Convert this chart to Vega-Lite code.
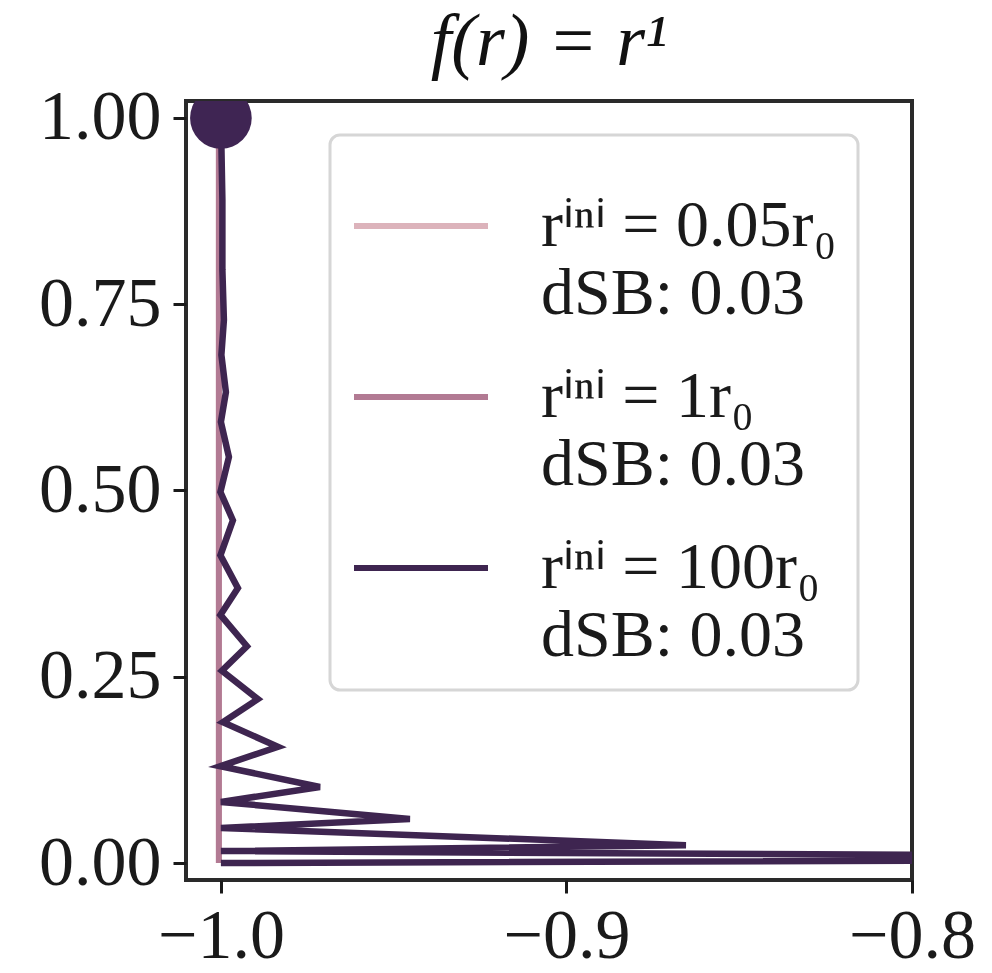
{
  "$schema": "https://vega.github.io/schema/vega-lite/v6.json",
  "width": 726,
  "height": 779,
  "autosize": "none",
  "padding": {"left": 186, "top": 101, "right": 80, "bottom": 93},
  "background": "white",
  "title": {"text": "f(r) = r¹", "fontSize": 74, "font": "Liberation Serif", "fontStyle": "italic", "fontWeight": "normal", "offset": 2, "color": "#111111"},
  "datasets": {
    "traj": [
      {"s": "rⁱⁿⁱ = 0.05r₀|dSB: 0.03", "i": 0, "x": -1.00058, "y": 1.0},
      {"s": "rⁱⁿⁱ = 0.05r₀|dSB: 0.03", "i": 1, "x": -1.00058, "y": 0.0},
      {"s": "rⁱⁿⁱ = 1r₀|dSB: 0.03", "i": 0, "x": -1.00058, "y": 1.0},
      {"s": "rⁱⁿⁱ = 1r₀|dSB: 0.03", "i": 1, "x": -1.00058, "y": 0.0},
      {"s": "rⁱⁿⁱ = 100r₀|dSB: 0.03", "i": 0, "x": -1.0, "y": 1.0},
      {"s": "rⁱⁿⁱ = 100r₀|dSB: 0.03", "i": 1, "x": -0.99957, "y": 0.890},
      {"s": "rⁱⁿⁱ = 100r₀|dSB: 0.03", "i": 2, "x": -0.99957, "y": 0.796},
      {"s": "rⁱⁿⁱ = 100r₀|dSB: 0.03", "i": 3, "x": -0.99913, "y": 0.729},
      {"s": "rⁱⁿⁱ = 100r₀|dSB: 0.03", "i": 4, "x": -0.99986, "y": 0.682},
      {"s": "rⁱⁿⁱ = 100r₀|dSB: 0.03", "i": 5, "x": -0.99855, "y": 0.632},
      {"s": "rⁱⁿⁱ = 100r₀|dSB: 0.03", "i": 6, "x": -1.0, "y": 0.592},
      {"s": "rⁱⁿⁱ = 100r₀|dSB: 0.03", "i": 7, "x": -0.99768, "y": 0.545},
      {"s": "rⁱⁿⁱ = 100r₀|dSB: 0.03", "i": 8, "x": -1.00014, "y": 0.498},
      {"s": "rⁱⁿⁱ = 100r₀|dSB: 0.03", "i": 9, "x": -0.99653, "y": 0.460},
      {"s": "rⁱⁿⁱ = 100r₀|dSB: 0.03", "i": 10, "x": -1.00014, "y": 0.413},
      {"s": "rⁱⁿⁱ = 100r₀|dSB: 0.03", "i": 11, "x": -0.99508, "y": 0.369},
      {"s": "rⁱⁿⁱ = 100r₀|dSB: 0.03", "i": 12, "x": -1.00014, "y": 0.333},
      {"s": "rⁱⁿⁱ = 100r₀|dSB: 0.03", "i": 13, "x": -0.99247, "y": 0.291},
      {"s": "rⁱⁿⁱ = 100r₀|dSB: 0.03", "i": 14, "x": -0.99971, "y": 0.258},
      {"s": "rⁱⁿⁱ = 100r₀|dSB: 0.03", "i": 15, "x": -0.98929, "y": 0.220},
      {"s": "rⁱⁿⁱ = 100r₀|dSB: 0.03", "i": 16, "x": -0.99942, "y": 0.189},
      {"s": "rⁱⁿⁱ = 100r₀|dSB: 0.03", "i": 17, "x": -0.9835, "y": 0.156},
      {"s": "rⁱⁿⁱ = 100r₀|dSB: 0.03", "i": 18, "x": -1.00014, "y": 0.130},
      {"s": "rⁱⁿⁱ = 100r₀|dSB: 0.03", "i": 19, "x": -0.97135, "y": 0.102},
      {"s": "rⁱⁿⁱ = 100r₀|dSB: 0.03", "i": 20, "x": -1.0, "y": 0.082},
      {"s": "rⁱⁿⁱ = 100r₀|dSB: 0.03", "i": 21, "x": -0.9453, "y": 0.059},
      {"s": "rⁱⁿⁱ = 100r₀|dSB: 0.03", "i": 22, "x": -1.0, "y": 0.047},
      {"s": "rⁱⁿⁱ = 100r₀|dSB: 0.03", "i": 23, "x": -0.86541, "y": 0.024},
      {"s": "rⁱⁿⁱ = 100r₀|dSB: 0.03", "i": 24, "x": -1.0, "y": 0.016},
      {"s": "rⁱⁿⁱ = 100r₀|dSB: 0.03", "i": 25, "x": -0.6, "y": 0.006},
      {"s": "rⁱⁿⁱ = 100r₀|dSB: 0.03", "i": 26, "x": -1.0, "y": 0.0}
    ]
  },
  "data": {"name": "traj"},
  "encoding": {
    "x": {"field": "x", "type": "quantitative", "scale": {"domain": [-1.0101, -0.8], "nice": false, "zero": false}, "axis": {"values": [-1.0, -0.9, -0.8], "format": ".1f", "labelPadding": 9}},
    "y": {"field": "y", "type": "quantitative", "scale": {"domain": [-0.0228, 1.0228], "nice": false, "zero": false}, "axis": {"values": [0, 0.25, 0.5, 0.75, 1], "format": ".2f", "labelPadding": 12}}
  },
  "layer": [
    {
      "transform": [{"filter": "datum.s == 'rⁱⁿⁱ = 0.05r₀|dSB: 0.03'"}],
      "mark": {"type": "line", "strokeWidth": 6, "clip": true},
      "encoding": {
        "order": {"field": "i", "type": "quantitative"},
        "color": {"field": "s", "type": "nominal",
          "scale": {"domain": ["rⁱⁿⁱ = 0.05r₀|dSB: 0.03", "rⁱⁿⁱ = 1r₀|dSB: 0.03", "rⁱⁿⁱ = 100r₀|dSB: 0.03"], "range": ["#dcb3bb", "#b27a93", "#3e2550"]},
          "legend": {"title": null, "labelExpr": "split(datum.label, '|')", "symbolType": "M-1,0H1"}}
      }
    },
    {
      "transform": [{"filter": "datum.s == 'rⁱⁿⁱ = 1r₀|dSB: 0.03'"}],
      "mark": {"type": "line", "strokeWidth": 6, "clip": true},
      "encoding": {
        "order": {"field": "i", "type": "quantitative"},
        "color": {"field": "s", "type": "nominal"}
      }
    },
    {
      "transform": [{"filter": "datum.s == 'rⁱⁿⁱ = 100r₀|dSB: 0.03'"}],
      "mark": {"type": "line", "strokeWidth": 6.5, "clip": true},
      "encoding": {
        "order": {"field": "i", "type": "quantitative"},
        "color": {"field": "s", "type": "nominal"}
      }
    },
    {
      "transform": [{"filter": "datum.s == 'rⁱⁿⁱ = 100r₀|dSB: 0.03' && datum.i == 0"}],
      "mark": {"type": "point", "filled": true, "size": 3800, "opacity": 1, "color": "#3f2553", "clip": true},
      "encoding": {}
    }
  ],
  "config": {
    "view": {"stroke": "#2a2a2a", "strokeWidth": 4},
    "axis": {"grid": false, "domain": false, "ticks": true, "tickColor": "#1a1a1a", "tickWidth": 3, "tickSize": 13, "labelFont": "Liberation Serif", "labelFontSize": 70, "labelColor": "#1a1a1a", "title": null, "labelFlush": false},
    "legend": {"orient": "none", "legendX": 144, "legendY": 34, "padding": 21, "strokeColor": "#d6d6d6", "strokeWidth": 3, "cornerRadius": 10, "fillColor": "rgba(255,255,255,0.85)", "symbolSize": 17956, "symbolStrokeWidth": 6, "labelFont": "Liberation Serif", "labelFontSize": 66, "labelLineHeight": 62, "labelOffset": 50, "rowPadding": 0, "labelColor": "#1a1a1a", "labelLimit": 0}
  }
}
